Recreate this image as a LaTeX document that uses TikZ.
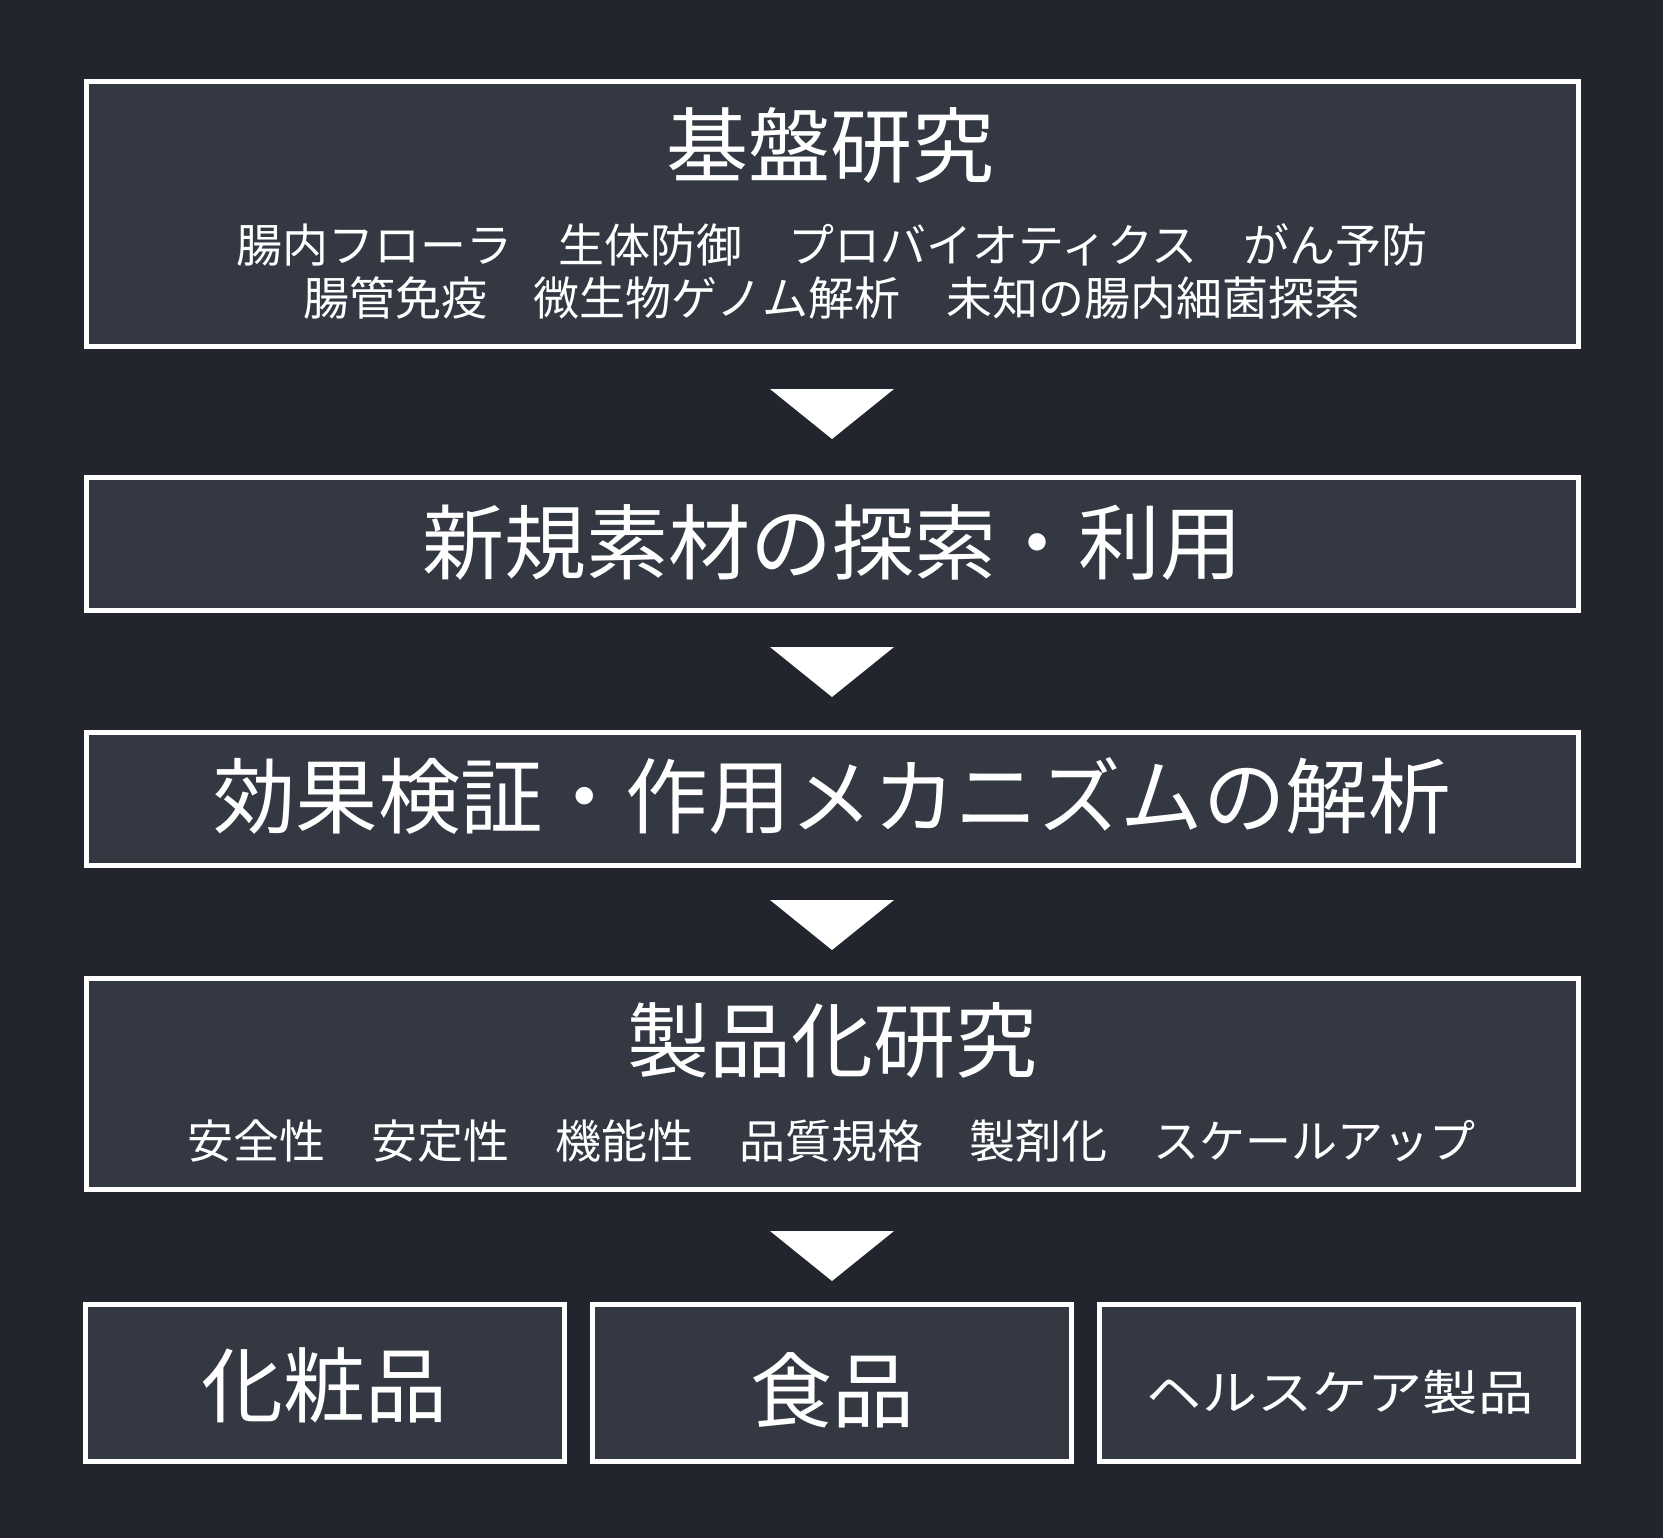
\documentclass[tikz,border=0pt]{standalone}
\usepackage{fontspec}
\setmainfont{Noto Sans CJK JP}
\usepackage{tikz}

\definecolor{darkbg}{RGB}{35,37,46}
\definecolor{boxfill}{RGB}{52,56,67}

\begin{document}
\begin{tikzpicture}[x=1pt,y=-1pt,
    stage/.style={draw=white,line width=5pt,fill=boxfill,inner sep=0pt},
    big/.style={text=white,inner sep=0pt,font=\fontsize{82}{90}\selectfont},
    small/.style={text=white,inner sep=0pt,align=center,font=\fontsize{46}{53}\selectfont}]
      \fill[darkbg] (0,0) rectangle (1663,1538) ;

      \node[stage,minimum width=1492pt,minimum height=265pt] (B) at ( 832, 214.5) {} ;
      \node[stage,minimum width=1492pt,minimum height=133pt] (N) at ( 832, 543.5) {} ;
      \node[stage,minimum width=1492pt,minimum height=133pt] (K) at ( 832, 798.5) {} ;
      \node[stage,minimum width=1492pt,minimum height=211pt] (S) at ( 832,1083.5) {} ;
      \node[stage,minimum width=479pt,minimum height=157pt] (C) at ( 325,1382.5) {} ;
      \node[stage,minimum width=479pt,minimum height=157pt] (F) at ( 832,1382.5) {} ;
      \node[stage,minimum width=479pt,minimum height=157pt] (H) at (1339,1382.5) {} ;

      \node[big]   (Bt) at ( 830, 145) { 基盤研究 } ;
      \node[small] (Bs) at ( 832, 271.5) { 腸内フローラ　生体防御　プロバイオティクス　がん予防\\腸管免疫　微生物ゲノム解析　未知の腸内細菌探索 } ;
      \node[big]   (Nt) at ( 832, 543) { 新規素材の探索・利用 } ;
      \node[big,font=\fontsize{82.5}{90}\selectfont] (Kt) at ( 832, 796) { 効果検証・作用メカニズムの解析 } ;
      \node[big]   (St) at ( 832,1040) { 製品化研究 } ;
      \node[small] (Ss) at ( 837,1141) { 安全性　安定性　機能性　品質規格　製剤化　スケールアップ } ;
      \node[big]   (Ct) at ( 324,1385) { 化粧品 } ;
      \node[big]   (Ft) at ( 832,1390) { 食品 } ;
      \node[text=white,inner sep=0pt,font=\fontsize{48}{56}\selectfont,xscale=1.15] (Ht) at (1340,1392) { ヘルスケア製品 } ;

      \foreach \y in {389,647,900,1231}
        \fill[white] (770,\y) -- (894,\y) -- (832,\y+50) -- cycle ;
    \end{tikzpicture}
\end{document}
